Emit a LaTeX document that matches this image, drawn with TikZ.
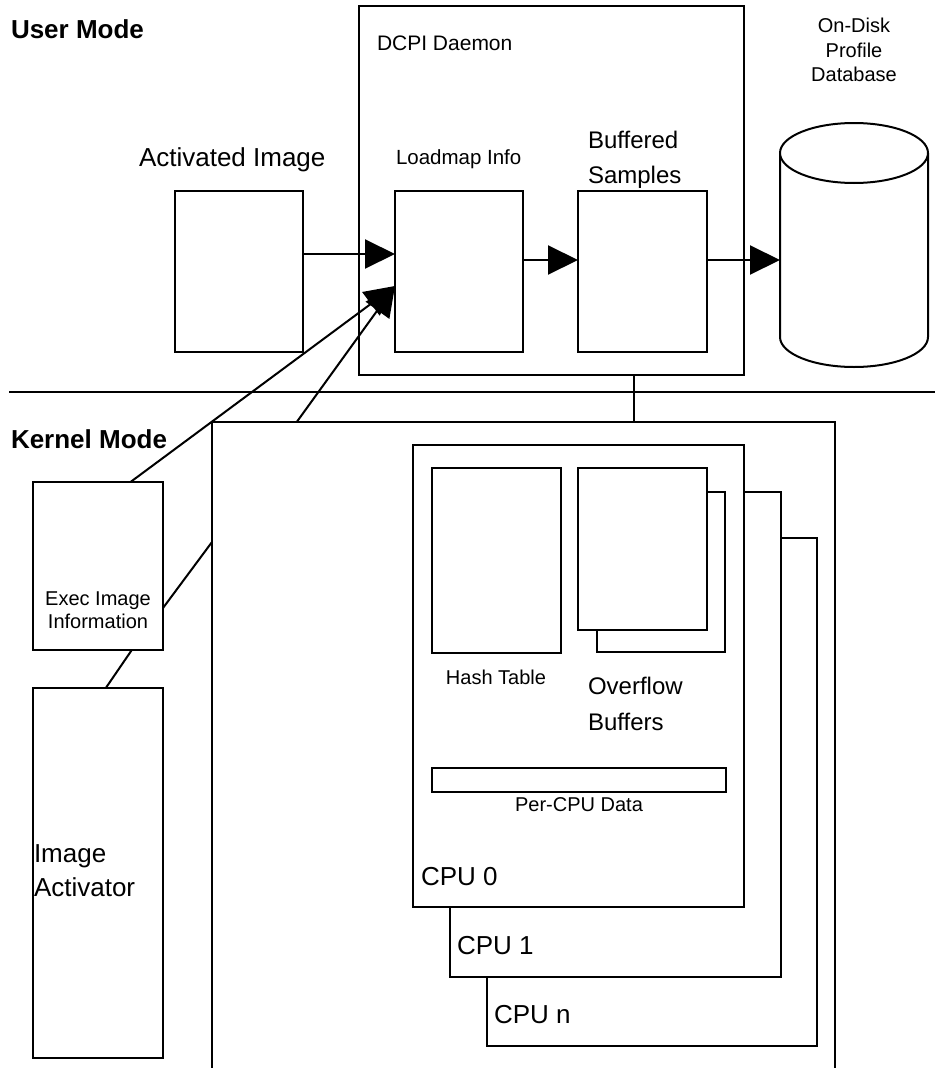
\documentclass[tikz,border=0pt]{standalone}
\usepackage{fontspec}
\setmainfont{Liberation Sans}
\usetikzlibrary{arrows.meta,calc}

\begin{document}
\begin{tikzpicture}[x=1pt,y=-1pt,
  every node/.style={inner sep=0pt,outer sep=0pt},
  box/.style={draw,fill=white,line width=2pt,anchor=north west},
  wire/.style={line width=2pt},
  arr/.style={line width=2pt,-{Triangle[length=30pt,width=29pt]}},
  lbl/.style={anchor=base west},
  clbl/.style={anchor=base},
  fs/.style={font=\fontsize{#1}{#1}\selectfont},
  mode/.style={anchor=base west,font=\fontsize{26}{26}\selectfont\bfseries}
]
% canvas
\fill[white] (0,0) rectangle (935,1068);
\useasboundingbox (0,0) rectangle (935,1068);

% user / kernel divider
\draw[wire] (9,392) coordinate (divL) -- (935,392) coordinate (divR);
\node[mode] (umode) at (11,38) {User Mode};
\node[mode] (kmode) at (11,448) {Kernel Mode};

% ---------------- user side ----------------
\node[box,minimum width=385pt,minimum height=369pt] (daemon) at (359,6) {};
\node[lbl,fs=21] (daemonlbl) at (377,50) {DCPI Daemon};

\node[box,minimum width=128pt,minimum height=161pt] (activated) at (175,191) {};
\node[lbl,fs=26] (activatedlbl) at (139,166) {Activated Image};

\node[box,minimum width=128pt,minimum height=161pt] (loadmap) at (395,191) {};
\node[lbl,fs=20.5] (loadmaplbl) at (396,164) {Loadmap Info};

\node[box,minimum width=129pt,minimum height=161pt] (buffered) at (578,191) {};
\node[lbl,fs=24] (buf1) at (588,148) {Buffered};
\node[lbl,fs=24] (buf2) at (588,183) {Samples};

% profile database cylinder
\path[draw,fill=white,line width=2pt]
  (780,153) coordinate (dbL) -- (780,337)
  arc[start angle=180,end angle=360,x radius=74pt,y radius=30pt]
  -- (928,153) coordinate (dbR);
\draw[line width=2pt,fill=white] (854,153) ellipse[x radius=74pt,y radius=30pt];
\coordinate (db) at (780,260);
\node[clbl,fs=20] (db1) at (854,32) {On-Disk};
\node[clbl,fs=20] (db2) at (854,57) {Profile};
\node[clbl,fs=20] (db3) at (854,81) {Database};

% ---------------- kernel side ----------------
\draw[wire] (212,1070) -- (212,422) coordinate (kTL) -- (835,422) coordinate (kTR) -- (835,1070);

\node[box,minimum width=130pt,minimum height=168pt] (exec) at (33,482) {};
\node[clbl,fs=20] (exec1) at (98,605) {Exec Image};
\node[clbl,fs=20] (exec2) at (98,628) {Information};

\node[box,minimum width=130pt,minimum height=370pt] (activator) at (33,688) {};
\node[lbl,fs=26] (act1) at (34,862) {Image};
\node[lbl,fs=26] (act2) at (34,896) {Activator};

% per-CPU stack, back to front
\node[box,minimum width=330pt,minimum height=508pt] (cpun) at (487,538) {};
\node[lbl,fs=26] (cpunlbl) at (494,1023) {CPU n};
\node[box,minimum width=331pt,minimum height=485pt] (cpu1) at (450,492) {};
\node[lbl,fs=26] (cpu1lbl) at (457,954) {CPU 1};
\node[box,minimum width=331pt,minimum height=462pt] (cpu0) at (413,445) {};
\node[lbl,fs=26] (cpu0lbl) at (421,885) {CPU 0};

\node[box,minimum width=129pt,minimum height=185pt] (hash) at (432,468) {};
\node[clbl,fs=20] (hashlbl) at (496,684) {Hash Table};

\node[box,minimum width=128pt,minimum height=160pt] (ovback) at (597,492) {};
\node[box,minimum width=129pt,minimum height=162pt] (ovfront) at (578,468) {};
\node[lbl,fs=24] (ov1) at (588,694) {Overflow};
\node[lbl,fs=24] (ov2) at (588,730) {Buffers};

\node[box,minimum width=294pt,minimum height=24pt] (percpu) at (432,768) {};
\node[clbl,fs=20] (percpulbl) at (579,811) {Per-CPU Data};

% ---------------- connectors ----------------
\coordinate (rowA) at (0,254);
\coordinate (rowB) at (0,260);
\coordinate (tip) at ($(loadmap.north west)!0.59!(loadmap.south west)$);

\draw[arr] (activated.east |- rowA) -- (loadmap.west |- rowA);
\draw[arr] (loadmap.east |- rowB) -- (buffered.west |- rowB);
\draw[arr] (buffered.east |- rowB) -- (db);

\draw[arr] ($(exec.north west)!0.75!(exec.north east)$) -- (tip);
\draw[arr] ($(kTL)!0.136!(kTR)$) -- (tip);

\draw[wire] ($(exec.north east)!0.75!(exec.south east)$) -- (212,542) coordinate (kL);
\draw[wire] ($(exec.south west)!0.76!(exec.south east)$) -- ($(activator.north west)!0.56!(activator.north east)$);

\draw[wire] ($(daemon.south west)!0.714!(daemon.south east)$) coordinate (dlink) -- (dlink |- kTL);
\end{tikzpicture}
\end{document}
